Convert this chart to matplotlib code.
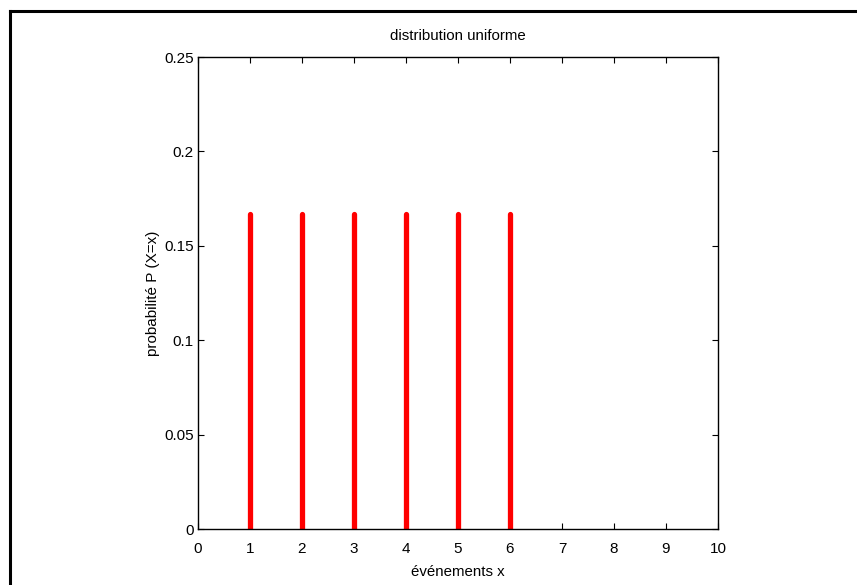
import matplotlib
matplotlib.use('Agg')
import matplotlib.pyplot as plt
from matplotlib.lines import Line2D

# issues d'un de a six faces
events = [1, 2, 3, 4, 5, 6]
probs = [1/6, 1/6, 1/6, 1/6, 1/6, 1/6]
xticks = [0, 1, 2, 3, 4, 5, 6, 7, 8, 9, 10]
yticks = [0, 0.05, 0.1, 0.15, 0.2, 0.25]
ytick_labels = ['0', '0.05', '0.1', '0.15', '0.2', '0.25']

plt.rcParams['font.family'] = ['Liberation Sans', 'DejaVu Sans']

fig = plt.figure(figsize=(8.57, 5.85), dpi=100)
ax = fig.add_axes([0.2310, 0.0957, 0.6068, 0.8068])

ax.vlines(events, 0, probs, colors='red', linewidth=3.8, capstyle='round')

ax.set_xlim(0, 10)
ax.set_ylim(0, 0.25)
ax.set_xticks(xticks)
ax.set_yticks(yticks)
ax.set_yticklabels(ytick_labels)
ax.tick_params(direction='in', top=True, right=True, length=4, width=0.8, labelsize=11)
ax.tick_params(axis='x', pad=9)
ax.tick_params(axis='y', pad=3)
for s in ax.spines.values():
    s.set_linewidth(1.0)

ax.set_title('distribution uniforme', fontsize=10.8, pad=12)
ax.set_xlabel('événements x', fontsize=10.8, labelpad=7)
ax.set_ylabel('probabilité P (X=x)', fontsize=11, labelpad=3)

# cadre noir autour de la figure
fig.add_artist(Line2D([10/857, 10/857], [0, 1 - 11/585], color='black', linewidth=2.2, transform=fig.transFigure))
fig.add_artist(Line2D([10/857, 1], [1 - 11/585, 1 - 11/585], color='black', linewidth=2.2, transform=fig.transFigure))

fig.savefig('out.png', dpi=100)
